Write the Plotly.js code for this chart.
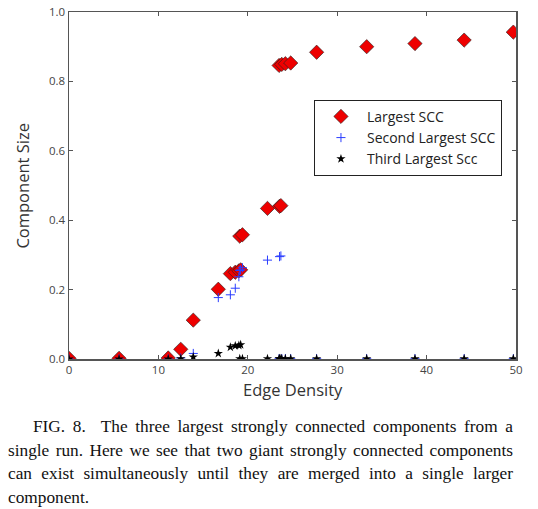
<!DOCTYPE html>
<html>
<head>
<meta charset="utf-8">
<script src="https://cdn.plot.ly/plotly-3.0.1.min.js"></script>
<style>
  body { margin: 0; background: #fff; width: 538px; }
  #chart { width: 538px; height: 400px; }
  #caption {
    font-family: "Liberation Serif", serif;
    font-size: 17.3px;
    line-height: 23.5px;
    text-align: justify;
    color: #111;
    margin: 15px 25px 0 8px;
    text-indent: 25px;
  }
</style>
</head>
<body>
<div id="chart"></div>
<div id="caption">FIG. 8.&nbsp; The three largest strongly connected components from a single run. Here we see that two giant strongly connected components can exist simultaneously until they are merged into a single larger component.</div>
<script>
// edge density of each snapshot
var density = [0, 5.6, 11.1, 12.5, 13.9, 16.7, 18.05, 18.6, 19.0, 19.2, 19.1, 19.4,
               22.2, 23.55, 23.7, 23.5, 23.8, 24.2, 24.8, 27.7, 33.3, 38.7, 44.2, 49.7];
// sizes of the three largest SCCs at each snapshot
var largest = [0.002, 0.002, 0.003, 0.028, 0.112, 0.201, 0.246, 0.250, 0.254, 0.257, 0.354, 0.358,
               0.434, 0.440, 0.442, 0.846, 0.849, 0.851, 0.853, 0.884, 0.900, 0.909, 0.919, 0.942];
var second = [0, 0, 0, 0.003, 0.016, 0.177, 0.185, 0.204, 0.237, 0.257, 0.255, 0.263,
              0.285, 0.295, 0.297, 0.001, 0.001, 0.001, 0.001, 0.001, 0.001, 0.001, 0.001, 0.001];
var third = [0, 0, 0, 0.001, 0.006, 0.016, 0.034, 0.038, 0.039, 0.041, 0.001, 0.001,
             0.001, 0.001, 0.001, 0.001, 0.001, 0.001, 0.001, 0.001, 0.001, 0.001, 0.001, 0.001];
var xTicks = [0, 10, 20, 30, 40, 50];
var yTicks = [0, 0.2, 0.4, 0.6, 0.8, 1.0];

var traces = [
  {
    x: density, y: largest, name: 'Largest SCC',
    mode: 'markers', type: 'scatter',
    marker: {symbol: 'diamond', size: 11, color: '#ee0000', line: {color: '#222', width: 0.6}}
  },
  {
    x: density, y: second, name: 'Second Largest SCC',
    mode: 'markers', type: 'scatter',
    marker: {symbol: 'cross-thin-open', size: 6.5, color: '#2a3dff', line: {color: '#2a3dff', width: 1}}
  },
  {
    x: density, y: third, name: 'Third Largest Scc',
    mode: 'markers', type: 'scatter',
    marker: {symbol: 'star', size: 7, color: '#000', line: {width: 0}}
  }
];

var axisStyle = {
  showline: true, linecolor: '#555', linewidth: 1.5, mirror: 'ticks',
  ticks: 'inside', ticklen: 4, tickcolor: '#555', showgrid: false, zeroline: false,
  tickfont: {family: 'Open Sans', size: 11.5, color: '#444'}
};

var titleFont = {family: 'Open Sans', size: 16.5, color: '#333'};

var layout = {
  width: 538, height: 400,
  margin: {l: 69, r: 22, t: 12, b: 41},
  paper_bgcolor: '#fff', plot_bgcolor: '#fff',
  showlegend: true,
  legend: {
    x: 0.548, y: 0.747, xanchor: 'left', yanchor: 'top',
    bordercolor: '#222', borderwidth: 1, bgcolor: '#fff',
    font: {family: 'Open Sans', size: 14, color: '#222'},
    tracegroupgap: 0, itemwidth: 42
  },
  xaxis: Object.assign({}, axisStyle, {
    range: [0, 50], tickvals: xTicks, ticktext: xTicks.map(String)
  }),
  yaxis: Object.assign({}, axisStyle, {
    range: [0, 1], tickvals: yTicks, ticktext: yTicks.map(function (v) { return v.toFixed(1); })
  }),
  annotations: [
    {text: 'Edge Density', xref: 'paper', yref: 'paper', x: 0.5, y: -0.088,
     xanchor: 'center', yanchor: 'middle', showarrow: false, font: titleFont},
    {text: 'Component Size', xref: 'paper', yref: 'paper', x: -0.105, y: 0.5, textangle: -90,
     xanchor: 'center', yanchor: 'middle', showarrow: false, font: titleFont}
  ]
};

Plotly.newPlot('chart', traces, layout, {staticPlot: true});
</script>
</body>
</html>
